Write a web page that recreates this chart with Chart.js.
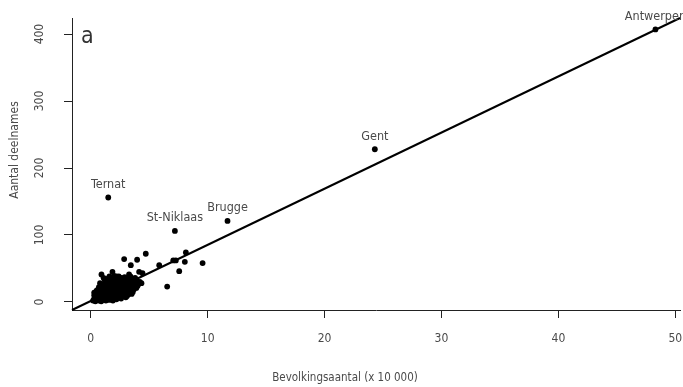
<!DOCTYPE html>
<html>
<head>
<meta charset="utf-8">
<script src="https://cdn.jsdelivr.net/npm/chart.js@4.4.1/dist/chart.umd.min.js"></script>
<style>
  html, body { margin: 0; padding: 0; background: #fff; }
  #plot { display: block; }
</style>
</head>
<body>
<canvas id="plot" width="683" height="387"></canvas>
<script>
// municipalities: population (x 10 000) vs number of participants
const popX = [
  0.2, 0.3, 0.4, 0.5, 0.6, 0.7, 0.8, 0.9, 1.0, 1.1, 1.2, 1.3, 1.4, 1.5, 1.6, 1.7, 1.8, 1.9, 2.0, 2.2, 2.4, 2.6, 2.8, 3.0, 3.2, 3.5,
  0.3, 0.5, 0.6, 0.8, 0.9, 1.0, 1.1, 1.2, 1.3, 1.4, 1.5, 1.6, 1.7, 1.8, 1.9, 2.0, 2.1, 2.2, 2.3, 2.4, 2.5, 2.6, 2.7, 2.8, 2.9, 3.0, 3.1, 3.3, 3.4, 3.6, 3.7,
  0.6, 0.7, 0.9, 1.0, 1.2, 1.3, 1.4, 1.5, 1.6, 1.7, 1.8, 1.9, 2.0, 2.1, 2.2, 2.3, 2.4, 2.5, 2.6, 2.7, 2.8, 2.9, 3.0, 3.1, 3.2, 3.3, 3.5, 3.6, 3.8, 4.0, 4.2,
  1.1, 1.6, 2.0, 2.4, 2.9, 3.4, 3.8,
  0.4, 0.5, 0.7, 0.8, 1.0, 1.1, 1.2, 1.3, 1.4, 1.5, 1.6, 1.7, 1.8, 1.9, 2.0, 2.1, 2.2, 2.3, 2.4, 2.5, 2.6, 2.7,
  2.8, 2.9, 3.0, 3.1, 3.2, 3.4, 3.5, 3.7, 3.9, 1.2, 1.5, 0.8, 2.2, 2.7, 0.3, 0.5, 1.0, 1.4, 3.3, 4.1, 3.9,
  2.86, 3.43, 3.97, 4.71, 0.92, 1.86, 3.28, 4.14, 4.43, 4.34, 5.86, 7.06, 7.28, 8.14, 8.05, 7.57, 9.57, 6.54
];
const deelY = [
  2, 5, 1, 3, 6, 2, 4, 1, 5, 3, 7, 2, 4, 6, 3, 8, 5, 2, 7, 4, 8, 5, 9, 7, 11, 12,
  10, 12, 9, 14, 11, 16, 10, 13, 18, 11, 15, 19, 12, 16, 20, 13, 17, 11, 19, 14, 18, 12, 16, 20, 14, 18, 13, 16, 20, 15, 19,
  18, 22, 25, 20, 28, 23, 31, 26, 22, 29, 33, 25, 30, 22, 34, 27, 31, 24, 36, 28, 32, 24, 29, 35, 26, 31, 27, 33, 29, 24, 30,
  36, 38, 39, 38, 37, 38, 36,
  7, 9, 11, 8, 12, 14, 17, 9, 21, 11, 14, 17, 24, 9, 22, 27, 15, 10, 22, 29, 20, 9,
  26, 18, 23, 9, 19, 24, 14, 24, 21, 33, 35, 28, 38, 33, 14, 17, 24, 27, 35, 27, 33,
  64, 55, 63, 72, 41, 45, 41, 45, 43, 28, 55, 62, 62, 74, 60, 46, 58, 23
];

// labelled towns
const towns = ['Antwerpen', 'Gent', 'Ternat', 'St-Niklaas', 'Brugge'];
const townX = [48.3, 24.3, 1.5, 7.2, 11.7];
const townY = [407, 228, 156, 106, 121];

// fitted line, end points at the plot edges
const fitX = [-1.6, 50.4];
const fitY = [-12, 424];

const xTicks = [0, 10, 20, 30, 40, 50];
const yTicks = [0, 100, 200, 300, 400];

const FONT = '"DejaVu Sans Condensed", "DejaVu Sans", sans-serif';
const INK = '#4a4a4a';

const points = popX.map((x, i) => ({ x: x, y: deelY[i] }))
  .concat(townX.map((x, i) => ({ x: x, y: townY[i] })));

// y tick labels (rotated), axis titles, panel letter and town names
const annotate = {
  id: 'annotate',
  afterDraw(chart) {
    const c = chart.ctx;
    const xs = chart.scales.x, ys = chart.scales.y;
    c.save();
    c.fillStyle = INK;
    c.textAlign = 'center';
    c.textBaseline = 'middle';

    c.font = '12px ' + FONT;
    yTicks.forEach(v => {
      c.save();
      c.translate(40, ys.getPixelForValue(v));
      c.rotate(-Math.PI / 2);
      c.fillText(String(v), 0, 0);
      c.restore();
    });

    c.save();
    c.translate(15, 150);
    c.rotate(-Math.PI / 2);
    c.fillText('Aantal deelnames', 0, 0);
    c.restore();

    c.font = '11.5px ' + FONT;
    c.fillText('Bevolkingsaantal (x 10 000)', 345, 378);

    c.font = '12.5px ' + FONT;
    towns.forEach((name, i) => {
      c.fillText(name, xs.getPixelForValue(townX[i]), ys.getPixelForValue(townY[i]) - 13);
    });

    c.fillStyle = '#333';
    c.textAlign = 'left';
    c.textBaseline = 'alphabetic';
    c.font = '23px ' + FONT;
    c.fillText('a', 81, 43);
    c.restore();
  }
};

new Chart(document.getElementById('plot'), {
  type: 'scatter',
  data: {
    datasets: [
      {
        type: 'line',
        data: fitX.map((x, i) => ({ x: x, y: fitY[i] })),
        borderColor: '#000',
        borderWidth: 2,
        pointRadius: 0,
        fill: false
      },
      {
        data: points,
        backgroundColor: '#000',
        borderColor: '#000',
        pointRadius: 2.9,
        pointBorderWidth: 0
      }
    ]
  },
  options: {
    responsive: false,
    animation: false,
    clip: false,
    layout: { autoPadding: false, padding: { top: 18, right: 3, left: 0, bottom: 0 } },
    plugins: { legend: { display: false }, tooltip: { enabled: false } },
    scales: {
      x: {
        type: 'linear',
        min: -1.6,
        max: 50.4,
        afterBuildTicks: s => { s.ticks = xTicks.map(v => ({ value: v })); },
        afterFit: s => { s.height = 77; s.paddingLeft = 0; s.paddingRight = 0; },
        grid: { drawOnChartArea: false, drawTicks: true, tickLength: 8, tickColor: '#222' },
        border: { display: true, color: '#222', width: 1 },
        ticks: { color: INK, font: { family: FONT, size: 12 }, padding: 14, maxRotation: 0 }
      },
      y: {
        type: 'linear',
        min: -12,
        max: 424,
        afterBuildTicks: s => { s.ticks = yTicks.map(v => ({ value: v })); },
        afterFit: s => { s.width = 72; s.paddingTop = 0; s.paddingBottom = 0; },
        grid: { drawOnChartArea: false, drawTicks: true, tickLength: 8, tickColor: '#222' },
        border: { display: true, color: '#222', width: 1 },
        ticks: { display: false }
      }
    }
  },
  plugins: [annotate]
});
</script>
</body>
</html>
